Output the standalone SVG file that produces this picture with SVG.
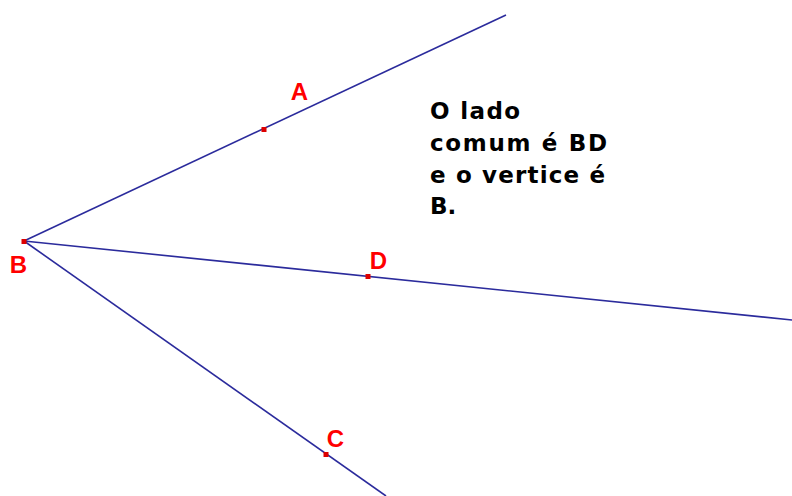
<svg xmlns="http://www.w3.org/2000/svg" width="792" height="496" viewBox="0 0 792 496">
<style>
.ray{stroke:#2b2b9c;stroke-width:1.6;fill:none;stroke-linecap:butt}
.pt{fill:#dd0000}
.lbl{font-family:"Liberation Sans",Arial,sans-serif;font-weight:bold;font-size:24px;fill:#ff0000;text-anchor:middle}
.note{font-family:"DejaVu Sans",Verdana,sans-serif;font-weight:bold;font-size:23px;fill:#000}
</style>
<rect width="792" height="496" fill="#ffffff"/>
<g id="connectors">
<line class="ray" x1="24" y1="241" x2="506" y2="15"/>
<line class="ray" x1="24" y1="241" x2="792" y2="320"/>
<line class="ray" x1="24" y1="241" x2="386" y2="496"/>
</g>
<g id="B"><rect class="pt" x="21.5" y="239" width="5" height="5"/><text class="lbl" x="18.5" y="273">B</text></g>
<g id="A"><rect class="pt" x="261.5" y="127" width="5" height="5"/><text class="lbl" x="299.5" y="100">A</text></g>
<g id="D"><rect class="pt" x="365.5" y="274" width="5" height="5"/><text class="lbl" x="378.5" y="269">D</text></g>
<g id="C"><rect class="pt" x="323.5" y="452" width="5" height="5"/><text class="lbl" x="335.5" y="447">C</text></g>
<g id="note">
<text class="note" x="430" y="119" textLength="90" lengthAdjust="spacing">O lado</text>
<text class="note" x="430" y="151" textLength="177" lengthAdjust="spacing">comum é BD</text>
<text class="note" x="430" y="183" textLength="175" lengthAdjust="spacing">e o vertice é</text>
<text class="note" x="430" y="214">B.</text>
</g>
</svg>
